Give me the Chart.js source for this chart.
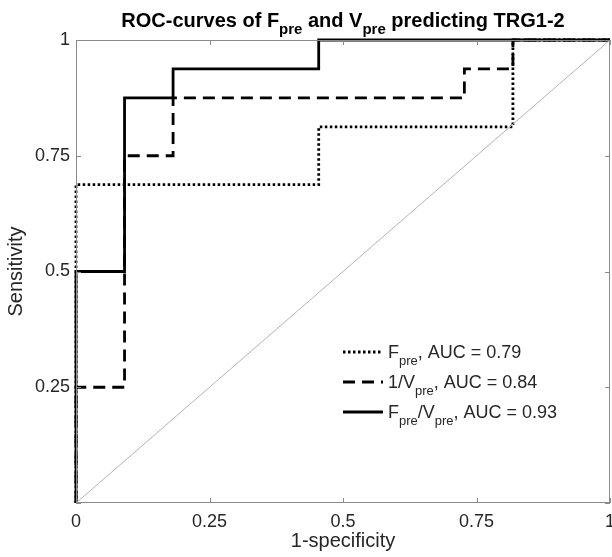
<!DOCTYPE html>
<html>
<head>
<meta charset="utf-8">
<script src="https://cdn.jsdelivr.net/npm/chart.js@4.4.0/dist/chart.umd.min.js"></script>
<style>
  html, body { margin: 0; padding: 0; background: #fff; }
  #wrap { width: 612px; height: 557px; }
</style>
</head>
<body>
<div id="wrap"><canvas id="roc" width="612" height="557"></canvas></div>
<script>
// ROC step curves (11 negatives, 16 positives)
const fpreX  = [0, 0, 0.4545, 0.4545, 0.8182, 0.8182, 1];
const fpreY  = [0, 0.6875, 0.6875, 0.8125, 0.8125, 1, 1];

const invVX  = [0, 0, 0.0909, 0.0909, 0.1818, 0.1818, 0.7273, 0.7273, 0.8182, 0.8182, 1];
const invVY  = [0, 0.25, 0.25, 0.75, 0.75, 0.875, 0.875, 0.9375, 0.9375, 1, 1];

const ratioX = [0, 0, 0.0909, 0.0909, 0.1818, 0.1818, 0.4545, 0.4545, 1];
const ratioY = [0, 0.5, 0.5, 0.875, 0.875, 0.9375, 0.9375, 1, 1];

const refX = [0, 1];
const refY = [0, 1];

const tickValues = [0, 0.25, 0.5, 0.75, 1];

// legend rows: pieces of text, true = subscript
const legendRows = [
    [["F", false], ["pre", true], [", AUC = 0.79", false]],
    [["1/V", false], ["pre", true], [", AUC = 0.84", false]],
    [["F", false], ["pre", true], ["/V", false], ["pre", true], [", AUC = 0.93", false]]
];
const titleParts = [["ROC-curves of F", false], ["pre", true], [" and V", false], ["pre", true], [" predicting TRG1-2", false]];

const FONT = "'Liberation Sans', Arial, sans-serif";

function toPoints(xs, ys) {
    return xs.map(function(x, i) { return {x: x, y: ys[i]}; });
}

// width of a run of text with subscripts
function partsWidth(ctx, parts, mainFont, subFont) {
    let w = 0;
    parts.forEach(function(p) {
        ctx.font = p[1] ? subFont : mainFont;
        w += ctx.measureText(p[0]).width;
    });
    return w;
}

function drawParts(ctx, parts, x, y, mainFont, subFont, subDrop) {
    ctx.textBaseline = "alphabetic";
    ctx.textAlign = "left";
    parts.forEach(function(p) {
        ctx.font = p[1] ? subFont : mainFont;
        ctx.fillText(p[0], x, p[1] ? y + subDrop : y);
        x += ctx.measureText(p[0]).width;
    });
}

// frame, inward ticks, title, legend (MATLAB look)
const matlabBits = {
    id: "matlabBits",
    afterDatasetsDraw: function(chart) {
        const ctx = chart.ctx;
        const a = chart.chartArea;
        const xs = chart.scales.x, ys = chart.scales.y;
        ctx.save();

        // box
        ctx.strokeStyle = "#8a8a8a";
        ctx.lineWidth = 1;
        ctx.strokeRect(a.left + 0.5, a.top + 0.5, a.right - a.left - 1, a.bottom - a.top - 1);

        // inward ticks on all four sides
        const tl = 5;
        ctx.beginPath();
        tickValues.forEach(function(v) {
            const px = Math.round(xs.getPixelForValue(v)) + 0.5;
            ctx.moveTo(px, a.bottom); ctx.lineTo(px, a.bottom - tl);
            ctx.moveTo(px, a.top); ctx.lineTo(px, a.top + tl);
            const py = Math.round(ys.getPixelForValue(v)) + 0.5;
            ctx.moveTo(a.left, py); ctx.lineTo(a.left + tl, py);
            ctx.moveTo(a.right, py); ctx.lineTo(a.right - tl, py);
        });
        ctx.stroke();

        // legend
        const ds = chart.data.datasets;
        const rowY = [352, 382, 412];
        legendRows.forEach(function(row, i) {
            const d = ds[i + 1];
            ctx.strokeStyle = "#000";
            ctx.lineWidth = d.borderWidth;
            ctx.setLineDash(d.borderDash || []);
            ctx.beginPath();
            ctx.moveTo(343, rowY[i]);
            ctx.lineTo(383, rowY[i]);
            ctx.stroke();
            ctx.setLineDash([]);
            ctx.fillStyle = "#262626";
            drawParts(ctx, row, 388, rowY[i] + 6, "18px " + FONT, "13px " + FONT, 7);
        });

        // title with subscripts
        const mainF = "bold 20px " + FONT, subF = "bold 15px " + FONT;
        const tw = partsWidth(ctx, titleParts, mainF, subF);
        ctx.fillStyle = "#000";
        drawParts(ctx, titleParts, (a.left + a.right) / 2 - tw / 2, 27, mainF, subF, 7);

        ctx.restore();
    }
};

new Chart(document.getElementById("roc"), {
    type: "line",
    data: {
        datasets: [
            {
                label: "reference",
                data: toPoints(refX, refY),
                borderColor: "#b3b3b3",
                borderWidth: 1,
                pointRadius: 0
            },
            {
                label: "Fpre, AUC = 0.79",
                data: toPoints(fpreX, fpreY),
                borderColor: "#000",
                borderWidth: 2.8,
                borderDash: [2.5, 2.5],
                pointRadius: 0
            },
            {
                label: "1/Vpre, AUC = 0.84",
                data: toPoints(invVX, invVY),
                borderColor: "#000",
                borderWidth: 2.8,
                borderDash: [12, 7],
                pointRadius: 0
            },
            {
                label: "Fpre/Vpre, AUC = 0.93",
                data: toPoints(ratioX, ratioY),
                borderColor: "#000",
                borderWidth: 2.8,
                pointRadius: 0
            }
        ]
    },
    options: {
        responsive: false,
        animation: false,
        events: [],
        clip: 6,
        layout: { padding: { top: 40, right: 2, left: 0, bottom: 0 } },
        elements: { line: { tension: 0, fill: false, borderCapStyle: "butt", borderJoinStyle: "miter" } },
        plugins: {
            legend: { display: false },
            title: { display: false },
            tooltip: { enabled: false }
        },
        scales: {
            x: {
                type: "linear",
                min: 0,
                max: 1,
                afterBuildTicks: function(scale) {
                    scale.ticks = tickValues.map(function(v) { return {value: v}; });
                },
                afterFit: function(scale) {
                    scale.height = 54;
                    // let the "1" label run off the edge like the original
                    scale.paddingLeft = 0;
                    scale.paddingRight = 0;
                },
                grid: { display: false, drawTicks: false },
                border: { display: false },
                ticks: {
                    padding: 8,
                    color: "#262626",
                    font: { family: FONT, size: 18 },
                    maxRotation: 0,
                    callback: function(v) { return String(v); }
                },
                title: {
                    display: true,
                    text: "1-specificity",
                    color: "#262626",
                    font: { family: FONT, size: 20 },
                    padding: { top: 0, bottom: 4 }
                }
            },
            y: {
                type: "linear",
                min: 0,
                max: 1,
                afterBuildTicks: function(scale) {
                    scale.ticks = tickValues.map(function(v) { return {value: v}; });
                },
                afterFit: function(scale) {
                    scale.width = 76;
                    scale.paddingTop = 0;
                    scale.paddingBottom = 0;
                },
                grid: { display: false, drawTicks: false },
                border: { display: false },
                ticks: {
                    padding: 6,
                    color: "#262626",
                    font: { family: FONT, size: 18 },
                    callback: function(v) { return v === 0 ? "" : String(v); }
                },
                title: {
                    display: true,
                    text: "Sensitivity",
                    color: "#262626",
                    font: { family: FONT, size: 20 },
                    padding: { top: 4, bottom: 0 }
                }
            }
        }
    },
    plugins: [matlabBits]
});
</script>
</body>
</html>
